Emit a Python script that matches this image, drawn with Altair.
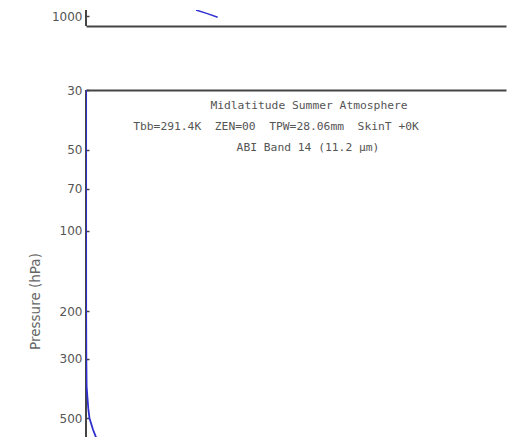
import altair as alt
import pandas as pd

# ---- data ----
# upper panel (only its lowest part is visible)
top_pressure = [950, 980, 1010]
top_weight = [0.262, 0.289, 0.3135]

# lower panel: ABI band 14 weighting function (visible part)
bot_pressure = [30, 100, 200, 300, 380, 420, 460, 500, 550, 600, 650]
bot_weight = [0.0003, 0.0003, 0.0004, 0.0008, 0.0015, 0.0035, 0.0055, 0.0083, 0.0166, 0.026, 0.036]

top_ticks = [1000]
bot_ticks = [30, 50, 70, 100, 200, 300, 500]

info_lines = [
    "Midlatitude Summer Atmosphere",
    "Tbb=291.4K\u00a0\u00a0ZEN=00\u00a0\u00a0TPW=28.06mm\u00a0\u00a0SkinT +0K",
    "ABI Band 14 (11.2 μm)",
]
info_pos = [(223, 16), (190, 37), (222, 58)]

BLUE = "#2f2fd0"
FRAME = "#444444"
W = 420
H_TOP = 16
H_BOT = 359

top_df = pd.DataFrame({"p": top_pressure, "w": top_weight})
bot_df = pd.DataFrame({"p": bot_pressure, "w": bot_weight})
one = pd.DataFrame({"a": [0]})

x_scale = alt.Scale(domain=[0, 1], nice=False)


def left_frame(h):
    return alt.Chart(one).mark_rule(color=FRAME, strokeWidth=2).encode(
        x=alt.value(0), y=alt.value(0), y2=alt.value(h)
    )


def y_axis(values, **kw):
    return alt.Axis(values=values, grid=False, domain=False, offset=-3,
                    tickSize=3, labelPadding=4, format="d", **kw)


top_line = alt.Chart(top_df).mark_line(color=BLUE, strokeWidth=1.5, clip=True).encode(
    x=alt.X("w:Q", scale=x_scale,
            axis=alt.Axis(title=None, labels=False, ticks=False, grid=False,
                          domain=True, domainColor=FRAME, domainWidth=2)),
    y=alt.Y("p:Q", scale=alt.Scale(type="log", domain=[950, 1089], nice=False, reverse=True),
            axis=y_axis(top_ticks, title=None)),
    order="p:Q",
)
top = alt.layer(left_frame(H_TOP), top_line).properties(
    width=W, height=H_TOP, view=alt.ViewBackground(stroke="transparent")
)

bot_line = alt.Chart(bot_df).mark_line(color=BLUE, strokeWidth=1.8, clip=True).encode(
    x=alt.X("w:Q", scale=x_scale,
            axis=alt.Axis(orient="top", title=None, labels=False, ticks=False, grid=False,
                          domain=True, domainColor=FRAME, domainWidth=2)),
    y=alt.Y("p:Q", scale=alt.Scale(type="log", domain=[30, 650], nice=False, reverse=True),
            axis=y_axis(bot_ticks, title="Pressure (hPa)", titleX=-54, titleY=211,
                        titleAngle=270, titleBaseline="middle")),
    order="p:Q",
)

texts = []
for s, (tx, ty) in zip(info_lines, info_pos):
    texts.append(
        alt.Chart(pd.DataFrame({"t": [s]})).mark_text(
            font="DejaVu Sans Mono", fontSize=11.3, color="#555555",
            align="center", baseline="middle"
        ).encode(text="t:N", x=alt.value(tx), y=alt.value(ty))
    )

bottom = alt.layer(left_frame(H_BOT), bot_line, *texts).properties(
    width=W, height=H_BOT, view=alt.ViewBackground(stroke="transparent")
)

chart = alt.vconcat(top, bottom, spacing=64, bounds="flush").properties(
    padding={"left": 19, "top": 0, "right": 0, "bottom": 0}
).configure_axis(
    labelFont="DejaVu Sans", labelFontSize=12, labelColor="#555555",
    titleFont="DejaVu Sans", titleFontSize=13.5, titleColor="#666666", titleFontWeight="normal",
    tickColor=FRAME, tickWidth=1.5,
)

chart.save("out.html", embed_options={"renderer": "svg", "actions": False})
